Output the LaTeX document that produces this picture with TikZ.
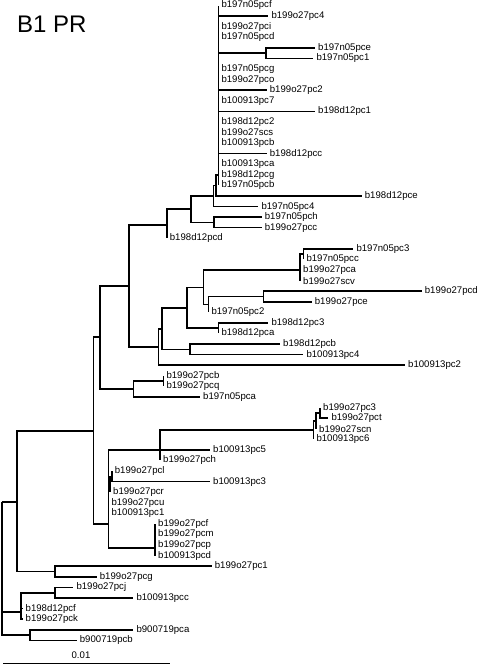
\documentclass[tikz,border=0pt]{standalone}
\usepackage{fontspec}
\setmainfont{Liberation Sans}
\tikzset{
  leaf/.style={anchor=west, inner sep=0pt, xshift=3pt, font=\fontsize{9.6}{10}\selectfont},
  branch/.style={line width=1.6pt}
}
\begin{document}
\begin{tikzpicture}[x=1pt, y=-1pt]
\useasboundingbox (0,0) rectangle (481,665);
% 标题
\node[anchor=base west, inner sep=0pt, font=\fontsize{24}{28}\selectfont] (title) at (17,32) {B1 PR};

% 叶节点：编号/末端x/名称
\foreach \i/\x/\lab in {0/218.3/b197n05pcf, 1/268.3/b199o27pc4, 2/218.3/b199o27pci,
    3/218.3/b197n05pcd, 4/315/b197n05pce, 5/313.3/b197n05pc1, 6/218.3/b197n05pcg,
    7/218.3/b199o27pco, 8/266.7/b199o27pc2, 9/218.3/b100913pc7, 10/315/b198d12pc1,
    11/218.3/b198d12pc2, 12/218.3/b199o27scs, 13/218.3/b100913pcb, 14/266.7/b198d12pcc,
    15/218.3/b100913pca, 16/218.3/b198d12pcg, 17/218.3/b197n05pcb, 18/361.7/b198d12pce,
    19/258.3/b197n05pc4, 20/261.7/b197n05pch, 21/261.7/b199o27pcc, 22/166.7/b198d12pcd,
    23/353.3/b197n05pc3, 24/303.3/b197n05pcc, 25/300/b199o27pca, 26/300/b199o27scv,
    27/421.7/b199o27pcd, 28/311.7/b199o27pce, 29/208.3/b197n05pc2, 30/268.3/b198d12pc3,
    31/218.3/b198d12pca, 32/280/b198d12pcb, 33/303.3/b100913pc4, 34/405/b100913pc2,
    35/163.3/b199o27pcb, 36/163.3/b199o27pcq, 37/200/b197n05pca, 38/320/b199o27pc3,
    39/328.3/b199o27pct, 40/316/b199o27scn, 41/313.3/b100913pc6, 42/210/b100913pc5,
    43/160/b199o27pch, 44/111.7/b199o27pcl, 45/210/b100913pc3, 46/110/b199o27pcr,
    47/108.3/b199o27pcu, 48/108.3/b100913pc1, 49/155/b199o27pcf, 50/155/b199o27pcm,
    51/155/b199o27pcp, 52/155/b100913pcd, 53/211.7/b199o27pc1, 54/96.7/b199o27pcg,
    55/73.3/b199o27pcj, 56/133.3/b100913pcc, 57/22.5/b198d12pcf, 58/22.5/b199o27pck,
    59/133.3/b900719pca, 60/76.7/b900719pcb}{
  \coordinate (l\i) at (\x,{5.5+10.58*\i});
  \node[leaf] (t\i) at (l\i) {\lab};
}

% 内部节点
\coordinate (root) at (1.7,501.7);
\coordinate (n16) at (16.7,501.7);
\coordinate (n93) at (93.3,431);
\coordinate (n100) at (100,337);
\coordinate (n129) at (129,286);
\coordinate (n167) at (166.7,225);
\coordinate (nF) at (190.7,209);
\coordinate (N1) at (213.3,196);
\coordinate (N2) at (215.7,185.5);
\coordinate (N3) at (218.3,175);
\coordinate (nH) at (266,53.1);
\coordinate (nG) at (214,222.4);
\coordinate (n158) at (158.3,347);
\coordinate (n162) at (161.7,329);
\coordinate (n187) at (186.7,308);
\coordinate (n203) at (203.3,287.5);
\coordinate (n208) at (208.3,304.4);
\coordinate (n263) at (263.3,296.5);
\coordinate (nC1) at (300,270);
\coordinate (nC2) at (303.3,254.1);
\coordinate (n218) at (218.3,328.2);
\coordinate (n190) at (190,349.4);
\coordinate (n133) at (133.3,389);
\coordinate (n163) at (163.3,381.1);
\coordinate (n108) at (108.3,524);
\coordinate (n160) at (160,449.9);
\coordinate (nA) at (313.3,430);
\coordinate (nB) at (316,421);
\coordinate (nC) at (320,412.8);
\coordinate (nL1) at (110,484);
\coordinate (nL2) at (111.7,476.3);
\coordinate (n155) at (155,548);
\coordinate (n55) at (55,571.5);
\coordinate (nJ) at (55,592.7);
\coordinate (nE) at (21,611.7);
\coordinate (nBot) at (30,635);

% 分支
\foreach \p/\c in {N3/l0, N3/l1, N3/l2, N3/l3, N3/nH, N3/l6, N3/l7, N3/l8, N3/l9,
    N3/l10, N3/l11, N3/l12, N3/l13, N3/l14, N3/l15, N3/l16, N3/l17, nH/l4, nH/l5,
    N2/N3, N2/l18, N1/N2, N1/l19, nG/l20, nG/l21, nF/N1, nF/nG, n167/nF, n167/l22,
    nC2/l23, nC2/l24, nC1/nC2, nC1/l25, nC1/l26, n263/l27, n263/l28, n208/n263, n208/l29,
    n203/nC1, n203/n208, n218/l30, n218/l31, n187/n203, n187/n218, n190/l32, n190/l33,
    n162/n187, n162/n190, n158/n162, n158/l34, n129/n167, n129/n158,
    n163/l35, n163/l36, n133/n163, n133/l37, n100/n129, n100/n133,
    nC/l38, nC/l39, nB/nC, nB/l40, nA/nB, nA/l41, n160/nA, n160/l42, n160/l43,
    nL2/l44, nL2/l45, nL1/nL2, nL1/l46, n155/l49, n155/l50, n155/l51, n155/l52,
    n108/n160, n108/nL1, n108/l47, n108/l48, n108/n155, n93/n100, n93/n108,
    n55/l53, n55/l54, n16/n93, n16/n55, nJ/l55, nJ/l56, nE/nJ, nE/l57, nE/l58,
    nBot/l59, nBot/l60, root/n16, root/nE, root/nBot}
  \draw[branch] (\p) |- (\c);

% 比例尺
\coordinate (sa) at (3.3,663.3);
\coordinate (sb) at (170,663.3);
\draw[branch] (sa) -- (sb);
\node[inner sep=0pt, font=\fontsize{9.6}{10}\selectfont] (scale) at (81,655.5) {0.01};
\end{tikzpicture}
\end{document}
